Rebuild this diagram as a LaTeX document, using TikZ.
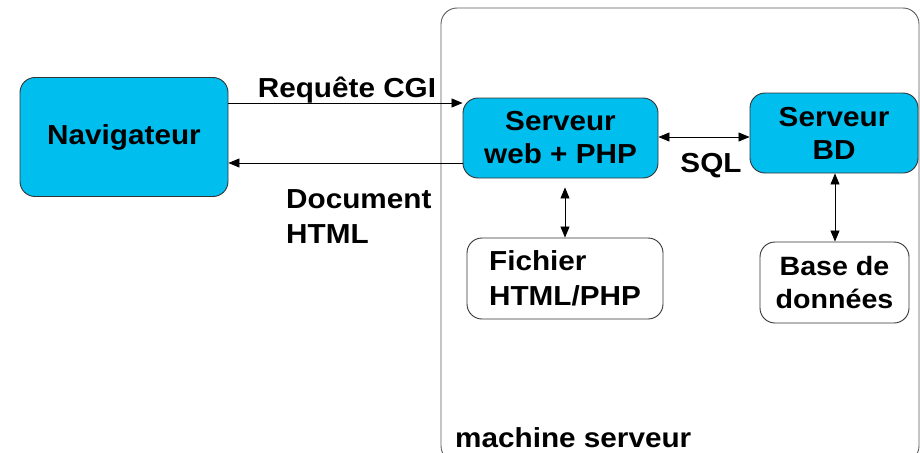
\documentclass[tikz,border=0pt]{standalone}
\usepackage{fontspec}
\setmainfont{Liberation Sans}[FakeStretch=1.08]
\usetikzlibrary{arrows.meta}
\definecolor{boxblue}{HTML}{00BEEE}
\definecolor{edge}{HTML}{333333}
\tikzset{
  bluebox/.style={draw=edge, line width=0.9pt, fill=boxblue, rounded corners=15pt, align=center, inner sep=0pt, font=\fontsize{27.5}{33}\selectfont\bfseries},
  whitebox/.style={draw=edge, line width=0.9pt, fill=white, rounded corners=15pt, inner sep=0pt, font=\fontsize{27.5}{35}\selectfont\bfseries},
  lbl/.style={inner sep=0pt, font=\fontsize{27.5}{35}\selectfont\bfseries},
  conn/.style={line width=0.8pt, -{Triangle[length=11pt,width=9pt]}},
  dconn/.style={line width=0.8pt, {Triangle[length=11pt,width=9pt]}-{Triangle[length=11pt,width=9pt]}}
}
\begin{document}
\begin{tikzpicture}[x=1pt,y=-1pt]
\useasboundingbox (0,0) rectangle (920,452);
% container
\draw[draw=edge!80, line width=0.9pt, rounded corners=16pt] (441,8) rectangle (919,462);
\node[lbl, anchor=base west] (machine) at (455,447) {machine serveur};
% boxes
\node[bluebox, minimum width=208pt, minimum height=119pt] (nav) at (124,137) {Navigateur};
\node[bluebox, minimum width=195pt, minimum height=80pt] (web) at (560.5,138) {Serveur\\web + PHP};
\node[bluebox, minimum width=168pt, minimum height=80pt] (bd) at (834,133) {Serveur\\BD};
\node[whitebox, minimum width=196pt, minimum height=81pt, align=left] (fic) at (565,278.5) {Fichier\\HTML/PHP};
\node[whitebox, minimum width=149pt, minimum height=81pt, align=center, font=\fontsize{26.5}{33}\selectfont\bfseries] (base) at (834.5,282.5) {Base de\\données};
% connectors
\coordinate (r) at (0,103);
\coordinate (d) at (0,163);
\draw[conn] (nav.east |- r) -- (web.west |- r);
\draw[conn] (web.west |- d) -- (nav.east |- d);
\node[lbl, anchor=base] (req) at (347,97) {Requête CGI};
\node[lbl, anchor=base west, align=left] (doc) at (286,243) {Document\\HTML};
\coordinate (s) at (0,137);
\draw[dconn] (web.east |- s) -- (bd.west |- s);
\node[lbl, anchor=base] (sql) at (711,172) {SQL};
\coordinate (v1) at (565,0);
\coordinate (v2) at (835,0);
\draw[dconn, shorten <=9pt] (web.south -| v1) -- (fic.north -| v1);
\draw[dconn] (bd.south -| v2) -- (base.north -| v2);
\end{tikzpicture}
\end{document}
